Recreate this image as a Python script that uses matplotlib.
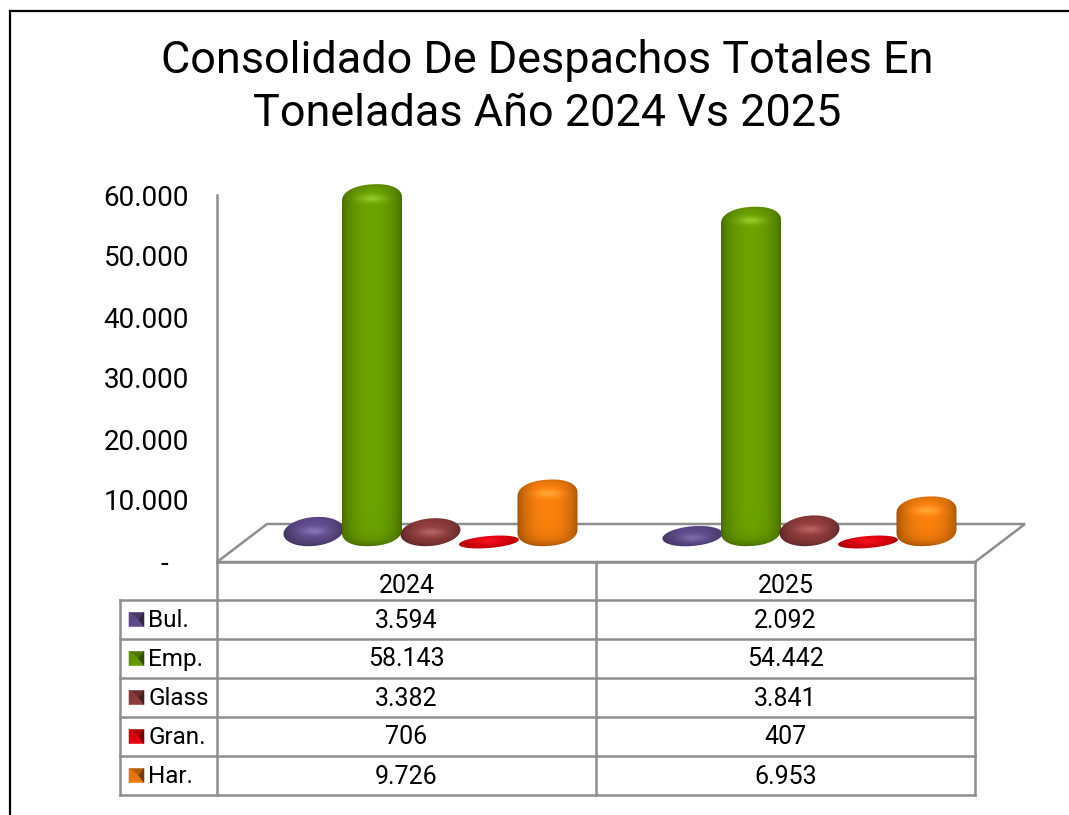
import numpy as np
import matplotlib
matplotlib.use('Agg')
import matplotlib.pyplot as plt
from matplotlib.path import Path
from matplotlib.patches import PathPatch, Polygon
from matplotlib.colors import to_rgb

# ===================== DATA =====================
years = ['2024', '2025']
series_names = ['Bul.', 'Emp.', 'Glass', 'Gran.', 'Har.']
bul = [3594, 2092]
emp = [58143, 54442]
glass = [3382, 3841]
gran = [706, 407]
har = [9726, 6953]
y_ticks = [0, 10000, 20000, 30000, 40000, 50000, 60000]
title_lines = ['Consolidado De Despachos Totales En', 'Toneladas Año 2024 Vs 2025']
colors = ['#5f4b8b', '#669a00', '#8e3b3b', '#e8000c', '#ee7a0c']

W, H = 1069, 815
GRID = '#8e8e8e'
FONT = 'Roboto'


def fmt(v):
    return f'{v:,}'.replace(',', '.')


fig = plt.figure(figsize=(W / 100, H / 100), dpi=100, facecolor='white')

# pixel overlay: frame, floor, table
bg = fig.add_axes([0, 0, 1, 1])
bg.set_xlim(0, W)
bg.set_ylim(H, 0)
bg.axis('off')

# chart axes: x 217..975, y 561..195
ax = fig.add_axes([217 / W, 1 - 561 / H, 758 / W, 366 / H])
ax.patch.set_alpha(0)
ax.set_xlim(-0.5, 1.5)
ax.set_ylim(0, 60000)
for s in ['top', 'right', 'bottom']:
    ax.spines[s].set_visible(False)
ax.spines['left'].set_color(GRID)
ax.spines['left'].set_linewidth(1.8)
ax.set_xticks([])
ax.set_yticks(y_ticks)
ax.set_yticklabels([fmt(v) if v else '-   ' for v in y_ticks], fontsize=20, family=FONT)
ax.tick_params(axis='y', length=0, pad=20)

px_x = 2.0 / 758
px_y = 60000 / 366
BAR_STEP = 58.5 * px_x
DEPTH_X = 24 * px_x
BASE = 15 * px_y    # foot of the bars above the axis bottom


def bar_outline(h_px, half=30):
    # rounded drum in pixels, x from centre, y up from the foot
    tot = max(h_px + 7, 12)
    tall = tot > 34
    r = 15 if tall else tot / 2
    n = 0.9 if tall else 1.0
    tilt = 0.06 if tall else 0.08
    t = np.linspace(0, np.pi, 60)
    cx = np.sign(np.cos(t)) * np.abs(np.cos(t)) ** n * half
    cy = np.abs(np.sin(t)) ** n * r
    xs = np.r_[cx, -cx]
    ys = np.r_[tot - r + cy, r - cy] + tilt * xs
    if tot < 14:
        ys = ys - 2
    return xs, ys, tot


def draw_bar(cx, val, color):
    h_px = val / px_y
    xs, ys, tot = bar_outline(h_px)
    margin = 6
    verts = np.c_[cx + xs * px_x, BASE + ys * px_y]
    patch = PathPatch(Path(np.r_[verts, verts[:1]]), fc='none', ec='none', transform=ax.transData)
    ax.add_patch(patch)

    # shading grid in pixels
    gw, gh = 64, int(tot + 2 * margin + 4)
    u = np.linspace(-1.05, 1.05, gw)
    py = np.linspace(-margin - 2, tot + margin + 2, gh)
    uu, yy = np.meshgrid(u, py)
    d_b = np.clip(yy, 0, None)
    d_t = np.clip(tot - yy, 0, None)
    flat = min(1.0, tot / 25)    # very short bars stay flat
    side = 0.68 + 0.38 * np.clip(1 - uu ** 2, 0, 1) ** 0.7
    side = 1 + (side - 1) * (0.4 + 0.6 * flat)
    vert = 1 - flat * (0.30 * np.exp(-d_b / 6) + 0.15 * np.exp(-d_t / 4))
    glow_y = tot - min(14, tot * 0.6)
    glow = 0.15 * flat * np.exp(-(uu / 0.45) ** 2 - ((yy - glow_y) / 4.0) ** 2)
    rgb = np.array(to_rgb(color))[None, None, :] * (side * vert)[:, :, None]
    rgb = np.clip(rgb + glow[:, :, None], 0, 1)

    y0 = BASE + py[0] * px_y
    y1 = BASE + py[-1] * px_y
    im = ax.imshow(rgb, origin='lower', aspect='auto', interpolation='bilinear',
                   extent=[cx - 32 * px_x, cx + 32 * px_x, y0, y1], zorder=3)
    im.set_clip_box(fig.bbox)
    im.set_clip_path(patch)


# floor
bg.add_patch(Polygon([[217, 562], [267, 524], [1025, 524], [975, 562]], closed=True,
                     fc='none', ec=GRID, lw=1.8, zorder=1))

all_series = [bul, emp, glass, gran, har]
for i, (vals, col) in enumerate(zip(all_series, colors)):
    for g, v in enumerate(vals):
        draw_bar(g + DEPTH_X + (i - 2) * BAR_STEP, v, col)
ax.set_xlim(-0.5, 1.5)
ax.set_ylim(0, 60000)

# frame
bg.plot([10, 10], [815, 11], color='black', lw=1.6)
bg.plot([10, 1069], [11, 11], color='black', lw=1.6)

# title
bg.text(547, 60, title_lines[0], ha='center', va='center', fontsize=32.4, family=FONT)
bg.text(547, 114, title_lines[1], ha='center', va='center', fontsize=32.4, family=FONT)

# table
row_y = [562, 600, 639, 678, 717, 756, 795]
col_x = [217, 596, 975]
for k, yy in enumerate(row_y):
    x0 = 217 if k == 0 else 120
    bg.plot([x0, 975], [yy, yy], color=GRID, lw=1.8, solid_capstyle='projecting')
for xx in col_x:
    bg.plot([xx, xx], [562, 795], color=GRID, lw=1.8)
bg.plot([120, 120], [600, 795], color=GRID, lw=1.8)

for j, yr in enumerate(years):
    xc = (col_x[j] + col_x[j + 1]) / 2
    bg.text(xc, 586, yr, ha='center', va='center', fontsize=18, family=FONT)
    for k, vals in enumerate(all_series):
        yc = (row_y[k + 1] + row_y[k + 2]) / 2
        bg.text(xc, yc + 1, fmt(vals[j]), ha='center', va='center', fontsize=18, family=FONT)

for k, (name, col) in enumerate(zip(series_names, colors)):
    yc = (row_y[k + 1] + row_y[k + 2]) / 2
    base = np.array(to_rgb(col))
    x0, x1, y0, y1 = 129, 144, yc - 7, yc + 7
    xm, ym = (x0 + x1) / 2 + 2, yc
    for tri, shade in [([[x0, y0], [x1, y0], [xm, ym]], 0.75),
                       ([[x0, y1], [x1, y1], [xm, ym]], 1.0),
                       ([[x0, y0], [x0, y1], [xm, ym]], 0.95),
                       ([[x1, y0], [x1, y1], [xm, ym]], 0.5)]:
        c = np.clip(base * shade, 0, 1)
        bg.add_patch(Polygon(tri, fc=c, ec=c, lw=0.4))
    bg.text(148, yc + 1, name, ha='left', va='center', fontsize=17.5, family=FONT)

fig.savefig('out.png', dpi=100)
